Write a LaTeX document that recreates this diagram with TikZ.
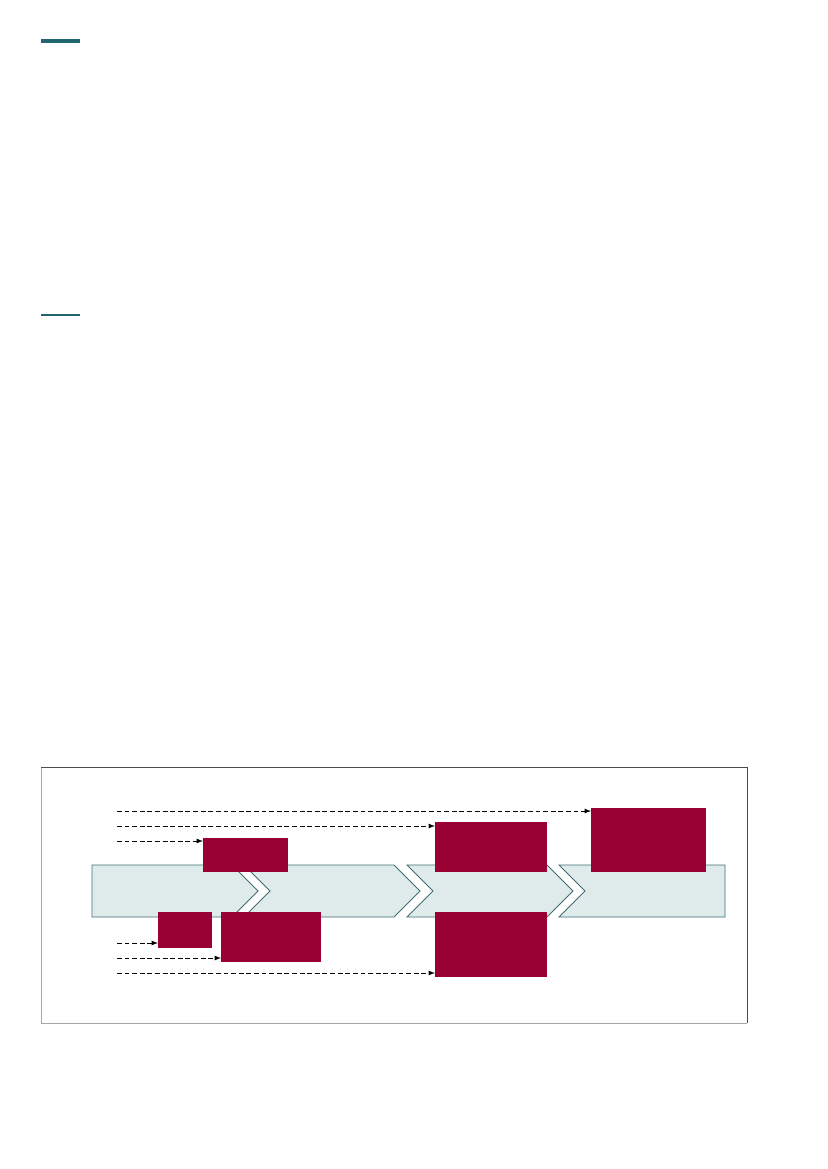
\documentclass[tikz,border=0pt]{standalone}
\usetikzlibrary{positioning}
\definecolor{wine}{HTML}{990033}
\definecolor{teal1}{HTML}{1F6670}
\definecolor{bandfill}{HTML}{DEEBEA}
\definecolor{bandline}{HTML}{3F6D73}
\tikzset{
    rbox/.style={fill=wine, inner sep=0pt, anchor=north west},
    dep/.style={->, >=latex, semithick, dash pattern=on 3.5pt off 2pt},
    seg/.style={fill=bandfill, draw=bandline, line width=0.6pt}
}
\newcommand{\Band}{
    \draw[seg] (92,865) -- (232,865) -- (258,891) -- (232,917) -- (92,917) -- cycle;
    \draw[seg] (244,865) -- (394,865) -- (420,891) -- (394,917) -- (244,917) -- (270,891) -- cycle;
    \draw[seg] (407,865) -- (547,865) -- (573,891) -- (547,917) -- (407,917) -- (433,891) -- cycle;
    \draw[seg] (559,865) -- (725,865) -- (725,917) -- (559,917) -- (585,891) -- cycle;
}
\begin{document}
\begin{tikzpicture}[x=0.254mm, y=-0.254mm]
    \useasboundingbox (0,0) rectangle (827,1169);
    % header rules
    \draw[teal1, line width=2.2pt] (41,41) -- (80,41);
    \draw[teal1, line width=1.4pt] (41,315) -- (80,315);
    % frame
    \draw[gray!70] (41,767) -- (41,1023) -- (747,1023);
    \draw[black!70] (41,767) -- (747,767) -- (747,1023);
    \Band
    % boxes
    \node[rbox, minimum width=21.59mm, minimum height=8.64mm] (plan) at (203,838) {};
    \node[rbox, minimum width=13.72mm, minimum height=9.14mm] (check) at (158,912) {};
    \node[rbox, minimum width=25.4mm, minimum height=12.7mm] (build) at (221,912) {};
    \node[rbox, minimum width=28.45mm, minimum height=12.7mm] (review) at (435,822) {};
    \node[rbox, minimum width=28.45mm, minimum height=16.51mm] (test) at (435,912) {};
    \node[rbox, minimum width=29.21mm, minimum height=16.26mm] (release) at (591,808) {};
    % inputs
    \coordinate (in1) at (117,811);
    \coordinate (in2) at (117,826);
    \coordinate (in3) at (117,841);
    \coordinate (in4) at (117,943);
    \coordinate (in5) at (117,958);
    \coordinate (in6) at (117,973);
    \draw[dep] (in1) -- (in1 -| release.west);
    \draw[dep] (in2) -- (in2 -| review.west);
    \draw[dep] (in3) -- (in3 -| plan.west);
    \draw[dep] (in4) -- (in4 -| check.west);
    \draw[dep] (in5) -- (in5 -| build.west);
    \draw[dep] (in6) -- (in6 -| test.west);
\end{tikzpicture}
\end{document}
